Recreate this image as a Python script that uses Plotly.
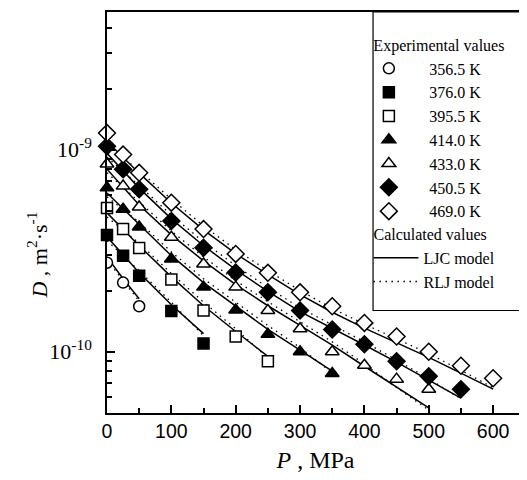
import plotly.graph_objects as go

# ---------------- data (D in m^2/s, P in MPa) ----------------
temps = ["356.5 K", "376.0 K", "395.5 K", "414.0 K", "433.0 K", "450.5 K", "469.0 K"]

P_exp_356 = [0, 25, 50]
D_exp_356 = [2.76e-10, 2.20e-10, 1.68e-10]
P_exp_376 = [0, 25, 50, 100, 150]
D_exp_376 = [3.79e-10, 2.99e-10, 2.38e-10, 1.59e-10, 1.10e-10]
P_exp_395 = [0, 25, 50, 100, 150, 200, 250]
D_exp_395 = [5.15e-10, 4.05e-10, 3.26e-10, 2.28e-10, 1.60e-10, 1.19e-10, 8.98e-11]
P_exp_414 = [0, 25, 50, 100, 150, 200, 250, 300, 350]
D_exp_414 = [6.48e-10, 5.08e-10, 4.15e-10, 2.88e-10, 2.09e-10, 1.61e-10, 1.22e-10, 1.00e-10, 7.81e-11]
P_exp_433 = [0, 25, 50, 100, 150, 200, 250, 300, 350, 400, 450, 500]
D_exp_433 = [8.51e-10, 6.61e-10, 5.21e-10, 3.69e-10, 2.72e-10, 2.09e-10, 1.60e-10, 1.30e-10,
             1.00e-10, 8.58e-11, 7.32e-11, 6.53e-11]
P_exp_450 = [0, 25, 50, 100, 150, 200, 250, 300, 350, 400, 450, 500, 550]
D_exp_450 = [1.04e-9, 8.00e-10, 6.37e-10, 4.44e-10, 3.27e-10, 2.47e-10, 1.97e-10, 1.60e-10,
             1.29e-10, 1.09e-10, 8.98e-11, 7.57e-11, 6.53e-11]
P_exp_469 = [0, 25, 50, 100, 150, 200, 250, 300, 350, 400, 450, 500, 550, 600]
D_exp_469 = [1.21e-9, 9.47e-10, 7.69e-10, 5.47e-10, 4.05e-10, 3.05e-10, 2.46e-10, 1.97e-10,
             1.68e-10, 1.39e-10, 1.19e-10, 1.00e-10, 8.53e-11, 7.40e-11]

# LJC model (solid lines)
P_ljc_356 = [0, 25, 50]
D_ljc_356 = [2.95e-10, 2.30e-10, 1.83e-10]
P_ljc_376 = [0, 50, 100, 150]
D_ljc_376 = [3.71e-10, 2.46e-10, 1.71e-10, 1.23e-10]
P_ljc_395 = [0, 50, 100, 150, 200, 250]
D_ljc_395 = [4.87e-10, 3.35e-10, 2.35e-10, 1.69e-10, 1.26e-10, 9.50e-11]
P_ljc_414 = [0, 50, 100, 150, 200, 250, 300, 350]
D_ljc_414 = [6.11e-10, 4.25e-10, 2.99e-10, 2.20e-10, 1.68e-10, 1.29e-10, 1.02e-10, 8.02e-11]
P_ljc_433 = [0, 50, 100, 150, 200, 250, 300, 350, 400, 450, 500]
D_ljc_433 = [8.02e-10, 5.33e-10, 3.79e-10, 2.82e-10, 2.15e-10, 1.69e-10, 1.35e-10, 1.08e-10,
             8.48e-11, 6.69e-11, 5.27e-11]
P_ljc_450 = [0, 50, 100, 150, 200, 250, 300, 350, 400, 450, 500, 550]
D_ljc_450 = [9.60e-10, 6.46e-10, 4.55e-10, 3.35e-10, 2.55e-10, 1.99e-10, 1.58e-10, 1.31e-10,
             1.08e-10, 8.88e-11, 7.24e-11, 5.90e-11]
P_ljc_469 = [0, 50, 100, 150, 200, 250, 300, 350, 400, 450, 500, 550, 600]
D_ljc_469 = [1.10e-9, 7.66e-10, 5.45e-10, 4.01e-10, 3.06e-10, 2.41e-10, 1.92e-10, 1.57e-10,
             1.31e-10, 1.11e-10, 9.39e-11, 7.84e-11, 6.53e-11]

# RLJ model (dotted lines)
D_rlj_356 = [2.85e-10, 2.26e-10, 1.78e-10]
D_rlj_376 = [3.55e-10, 2.52e-10, 1.76e-10, 1.20e-10]
D_rlj_395 = [4.65e-10, 3.45e-10, 2.44e-10, 1.76e-10, 1.30e-10, 9.30e-11]
D_rlj_414 = [5.85e-10, 4.38e-10, 3.12e-10, 2.30e-10, 1.76e-10, 1.35e-10, 1.05e-10, 7.85e-11]
D_rlj_433 = [7.70e-10, 5.50e-10, 3.96e-10, 2.95e-10, 2.25e-10, 1.77e-10, 1.41e-10, 1.12e-10,
             8.70e-11, 6.65e-11, 5.15e-11]
D_rlj_450 = [9.20e-10, 6.65e-10, 4.75e-10, 3.50e-10, 2.67e-10, 2.08e-10, 1.65e-10, 1.36e-10,
             1.12e-10, 9.10e-11, 7.35e-11, 5.85e-11]
D_rlj_469 = [1.06e-9, 7.90e-10, 5.70e-10, 4.20e-10, 3.20e-10, 2.52e-10, 2.01e-10, 1.64e-10,
             1.37e-10, 1.16e-10, 9.80e-11, 8.10e-11, 6.65e-11]

x_ticks = [0, 100, 200, 300, 400, 500, 600]
x_minor = [50, 150, 250, 350, 450, 550]
y_ticks = [1e-10, 1e-9]
y_ticktext = ["10<sup>-10</sup>", "10<sup>-9</sup>"]
y_minor = [6e-11, 7e-11, 8e-11, 9e-11, 2e-10, 3e-10, 4e-10, 5e-10, 6e-10, 7e-10, 8e-10, 9e-10,
           2e-9, 3e-9, 4e-9]

exp_P = [P_exp_356, P_exp_376, P_exp_395, P_exp_414, P_exp_433, P_exp_450, P_exp_469]
exp_D = [D_exp_356, D_exp_376, D_exp_395, D_exp_414, D_exp_433, D_exp_450, D_exp_469]
ljc_P = [P_ljc_356, P_ljc_376, P_ljc_395, P_ljc_414, P_ljc_433, P_ljc_450, P_ljc_469]
ljc_D = [D_ljc_356, D_ljc_376, D_ljc_395, D_ljc_414, D_ljc_433, D_ljc_450, D_ljc_469]
rlj_D = [D_rlj_356, D_rlj_376, D_rlj_395, D_rlj_414, D_rlj_433, D_rlj_450, D_rlj_469]

symbols = ["circle", "square", "square", "triangle-up", "triangle-up", "diamond", "diamond"]
fills = ["white", "black", "white", "black", "white", "black", "white"]
sizes = [11, 11, 11, 12, 12, 13, 13]

SERIF = "Liberation Serif, Times New Roman, serif"
SANS = "Liberation Sans, Arial, sans-serif"
LEG = 16
PAD = "&nbsp;&nbsp;"

fig = go.Figure()

for i in range(7):
    fig.add_trace(go.Scatter(
        x=ljc_P[i], y=ljc_D[i], mode="lines",
        line=dict(color="black", width=1.5),
        name="LJC model", legendgroup="calc", legend="legend2",
        legendgrouptitle=dict(text="Calculated values",
                              font=dict(family=SERIF, size=LEG, color="black")),
        showlegend=(i == 0), legendrank=20, hoverinfo="skip"))
for i in range(7):
    fig.add_trace(go.Scatter(
        x=ljc_P[i], y=rlj_D[i], mode="lines",
        line=dict(color="black", width=1.3, dash="1.5px,4.5px"),
        name="RLJ model", legendgroup="calc", legend="legend2",
        showlegend=(i == 0), legendrank=21, hoverinfo="skip"))

for i in range(7):
    fig.add_trace(go.Scatter(
        x=exp_P[i], y=exp_D[i], mode="markers",
        marker=dict(symbol=symbols[i], size=sizes[i], color=fills[i],
                    line=dict(color="black", width=1.5)),
        name=PAD + temps[i], legendgroup="exp", legend="legend",
        legendgrouptitle=dict(text="&nbsp;&nbsp;&nbsp;Experimental values",
                              font=dict(family=SERIF, size=LEG, color="black")),
        legendrank=i + 1,
        cliponaxis=(i == 0)))

fig.update_layout(
    width=519, height=472, autosize=False,
    margin=dict(l=99, r=3, t=2, b=67),
    paper_bgcolor="white", plot_bgcolor="white",
    font=dict(family=SERIF, size=LEG, color="black"),
    showlegend=True,
    legend=dict(x=0.598, y=0.961, xanchor="left", yanchor="top",
                bgcolor="rgba(0,0,0,0)", borderwidth=0,
                font=dict(family=SERIF, size=LEG, color="black"),
                traceorder="grouped", tracegroupgap=0, itemwidth=55),
    legend2=dict(x=0.627, y=0.4888, xanchor="left", yanchor="top",
                 bgcolor="rgba(0,0,0,0)", borderwidth=0,
                 font=dict(family=SERIF, size=LEG, color="black"),
                 traceorder="grouped", tracegroupgap=0, itemwidth=45),
    shapes=[dict(type="rect", xref="paper", yref="paper",
                 x0=0.638, x1=1.0048, y0=0.2556, y1=1.0,
                 line=dict(color="black", width=1.2), fillcolor="rgba(0,0,0,0)")],
    annotations=[dict(text="<i>D</i> , m<sup>2</sup>·s<sup>-1</sup>", textangle=-90,
                      xref="paper", yref="paper", x=-0.168, y=0.395,
                      xanchor="center", yanchor="middle", showarrow=False,
                      font=dict(family=SERIF, size=22, color="black"))],
)

fig.update_xaxes(
    range=[0, 648], tickvals=x_ticks, ticks="inside", ticklen=8, tickwidth=1.5,
    tickcolor="black", showline=True, linecolor="black", linewidth=1.5,
    mirror=True, showgrid=False, zeroline=False,
    tickfont=dict(family=SANS, size=19.5, color="black"),
    minor=dict(tickvals=x_minor, ticks="inside", ticklen=5, tickwidth=1.5, tickcolor="black"),
    title=dict(text="<i>P</i> , MPa", font=dict(family=SERIF, size=24, color="black"), standoff=10),
)
fig.update_yaxes(
    type="log", range=[-10.303, -8.318], tickvals=y_ticks, ticktext=y_ticktext,
    ticks="inside", ticklen=8, tickwidth=1.5, tickcolor="black",
    showline=True, linecolor="black", linewidth=1.5, mirror=False,
    showgrid=False, zeroline=False, ticklabelstandoff=9,
    tickfont=dict(family=SERIF, size=22, color="black"),
    minor=dict(tickvals=y_minor, ticks="inside", ticklen=5, tickwidth=1.5, tickcolor="black"),
)

fig.write_html("out.html")
